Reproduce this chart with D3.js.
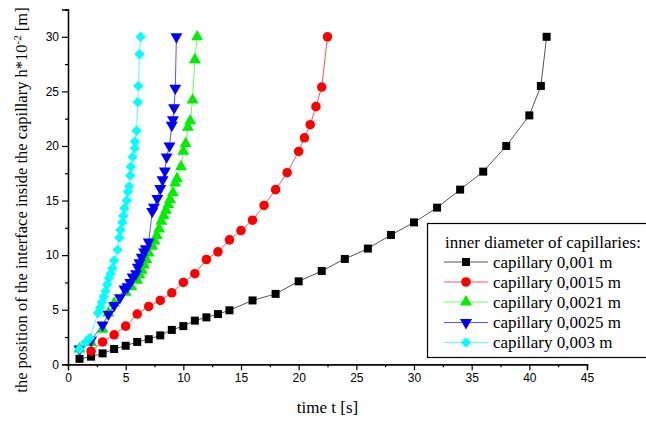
<!DOCTYPE html>
<html><head><meta charset="utf-8">
<script src="https://cdn.jsdelivr.net/npm/d3@7"></script>
<style>body{margin:0;background:#fff}svg{display:block}</style>
</head><body>
<svg id="c" width="646" height="421"></svg>
<script>
// ---- data ----
const seriesNames = ["capillary 0,001 m","capillary 0,0015 m","capillary 0,0021 m","capillary 0,0025 m","capillary 0,003 m"];
const legendTitle = "inner diameter of capillaries:";
const xTicks = [0,5,10,15,20,25,30,35,40,45];
const yTicks = [0,5,10,15,20,25,30];

const t1 = [1,2,3,4,5,6,7,8,9,10,11,12,13,14,16,18,20,22,24,26,28,30,32,34,36,38,40,41,41.5];
const h1 = [0.5,0.7,1.0,1.4,1.7,2.05,2.3,2.65,3.15,3.5,4.0,4.3,4.6,4.95,5.85,6.45,7.6,8.55,9.65,10.6,11.85,13.0,14.35,16.0,17.65,20.0,22.8,25.5,30];

const t2 = [2,3,4,5,6,7,8,9,10,11,12,13,14,15,16,17,18,19,20,20.5,21,21.5,22,22.5];
const h2 = [1.2,2.05,2.7,3.5,4.6,5.3,5.85,6.55,7.5,8.3,9.6,10.3,11.4,12.25,13.2,14.55,16.0,17.55,19.5,20.75,21.95,23.6,25.4,30];

const t3 = [1,2,3,3.5,4,5,5.5,6,6.2,6.4,6.6,6.8,7.0,7.3,7.5,7.7,7.9,8.1,8.3,8.5,8.7,8.85,9.1,9.3,9.45,9.8,10.0,10.2,10.4,10.6,10.8,11.0,11.2];
const h3 = [1.4,2.0,3.2,4.7,5.6,6.6,7.1,7.7,8.2,8.6,9.1,9.6,10.2,10.8,11.3,11.8,12.4,13.1,13.6,14.1,14.6,15.1,15.7,16.6,17.0,18.1,19.5,20.2,21.7,22.3,24.2,27.9,30];

const t4 = [1,2,3,3.5,4,4.5,4.9,5.15,5.4,5.6,5.9,6.05,6.2,6.4,6.6,6.75,7.0,7.3,7.45,7.75,8.0,8.2,8.4,8.55,8.8,9.0,9.1,9.2,9.3,9.4];
const h4 = [1.4,2.2,3.6,4.6,5.4,6.1,6.9,7.1,7.5,8.0,8.3,8.9,9.3,9.8,10.3,10.6,11.2,14.0,14.4,15.2,16.1,16.9,17.7,19.0,20.0,21.9,22.4,23.5,25.3,30];

const t5 = [1,1.5,1.9,2.6,2.8,2.95,3.1,3.25,3.4,3.55,3.7,3.85,4.0,4.3,4.45,4.55,4.7,4.8,4.9,5.1,5.2,5.3,5.4,5.45,5.6,5.8,5.8,5.95,6.05,6.1,6.2,6.3];
const h5 = [1.4,2.0,2.4,4.7,5.2,5.7,6.2,6.7,7.3,7.9,8.3,8.8,9.5,10.5,11.6,12.3,13.0,13.6,14.3,15.0,15.8,16.3,17.3,18.1,19.0,19.8,20.4,21.4,24.0,25.5,28.4,30];

const seriesT = [t1,t2,t3,t4,t5];
const seriesH = [h1,h2,h3,h4,h5];
const markerColors = ["#000000","#ff0000","#00ee00","#0000ff","#00ffff"];
const lineColors = ["#555555","#ff5555","#66ff66","#5555ff","#55ffff"];
const shapes = ["square","circle","up","down","diamond"];

// ---- chart ----
const svg = d3.select("#c");
const x = d3.scaleLinear().domain([0,45]).range([68,587]);
const y = d3.scaleLinear().domain([0,32.5]).range([364.3,9.5]);

function markerPath(shape){
  if(shape==="square") return d3.symbol(d3.symbolSquare,64)();
  if(shape==="circle") return d3.symbol(d3.symbolCircle,72)();
  if(shape==="up") return d3.symbol(d3.symbolTriangle,62)();
  if(shape==="down") return d3.symbol(d3.symbolTriangle,62)();
  if(shape==="diamond") return "M0,-5.2L5.2,0L0,5.2L-5.2,0Z";
}
function markerTransform(shape,px,py){
  return shape==="down" ? `translate(${px},${py}) rotate(180)` : `translate(${px},${py})`;
}

// axes
const xAxis = d3.axisBottom(x).tickValues(xTicks).tickSize(6).tickPadding(3).tickFormat(d3.format("d"));
const xMinor = d3.axisBottom(x).tickValues(d3.range(2.5,45,5)).tickSize(3).tickFormat("");
const yAxis = d3.axisLeft(y).tickValues(yTicks).tickSize(6).tickPadding(3).tickFormat(d3.format("d"));
const yMinor = d3.axisLeft(y).tickValues(d3.range(2.5,33,5)).tickSize(3).tickFormat("");

function styleAxis(g){
  g.selectAll("path.domain").attr("stroke","#000").attr("stroke-width",1.3);
  g.selectAll(".tick line").attr("stroke","#000").attr("stroke-width",1.2);
  g.selectAll(".tick text").attr("fill","#000").style("font-family","'Liberation Sans',Arial,sans-serif").style("font-size","12px");
}
svg.append("g").attr("transform","translate(0,364.3)").call(xMinor).call(styleAxis);
svg.append("g").attr("transform","translate(0,364.3)").call(xAxis).call(styleAxis);
svg.append("g").attr("transform","translate(68,0)").call(yMinor).call(styleAxis);
svg.append("g").attr("transform","translate(68,0)").call(yAxis).call(styleAxis);

// titles
svg.append("text").attr("x",(x(0)+x(45))/2).attr("y",413).attr("text-anchor","middle")
  .style("font-family","'Liberation Serif','Times New Roman',serif").style("font-size","17px").text("time t [s]");
const yt = svg.append("text").attr("transform","translate(27,200) rotate(-90)").attr("text-anchor","middle")
  .style("font-family","'Liberation Serif','Times New Roman',serif").style("font-size","16.5px");
yt.append("tspan").text("the position of the interface inside the capillary h*10");
yt.append("tspan").attr("dy",-6).style("font-size","11px").text("-2");
yt.append("tspan").attr("dy",6).text(" [m]");

// series
const line = d3.line().x(d=>x(d[0])).y(d=>y(d[1]));
seriesT.forEach((ts,i)=>{
  const pts = ts.map((t,j)=>[t,seriesH[i][j]]);
  const g = svg.append("g");
  g.append("path").datum(pts).attr("d",line).attr("fill","none").attr("stroke",lineColors[i]).attr("stroke-width",1);
  g.selectAll("path.m").data(pts).enter().append("path").attr("class","m")
    .attr("d",markerPath(shapes[i])).attr("transform",d=>markerTransform(shapes[i],x(d[0]),y(d[1])))
    .attr("fill",markerColors[i]);
});

// legend
const lg = svg.append("g");
lg.append("rect").attr("x",427.5).attr("y",223.5).attr("width",240).attr("height",134).attr("fill","#fff").attr("stroke","#000").attr("stroke-width",1.2);
lg.append("text").attr("x",445).attr("y",248).style("font-family","'Liberation Serif','Times New Roman',serif").style("font-size","17px").text(legendTitle);
const rowY = [262,282,302,322.5,342.5];
seriesNames.forEach((n,i)=>{
  const ry = rowY[i];
  lg.append("line").attr("x1",444).attr("x2",488).attr("y1",ry).attr("y2",ry).attr("stroke",lineColors[i]).attr("stroke-width",1);
  lg.append("path").attr("d",markerPath(shapes[i])).attr("transform",markerTransform(shapes[i],466,ry)).attr("fill",markerColors[i]);
  lg.append("text").attr("x",493).attr("y",ry+5.5).style("font-family","'Liberation Serif','Times New Roman',serif").style("font-size","17px").text(n);
});
</script>
</body></html>
